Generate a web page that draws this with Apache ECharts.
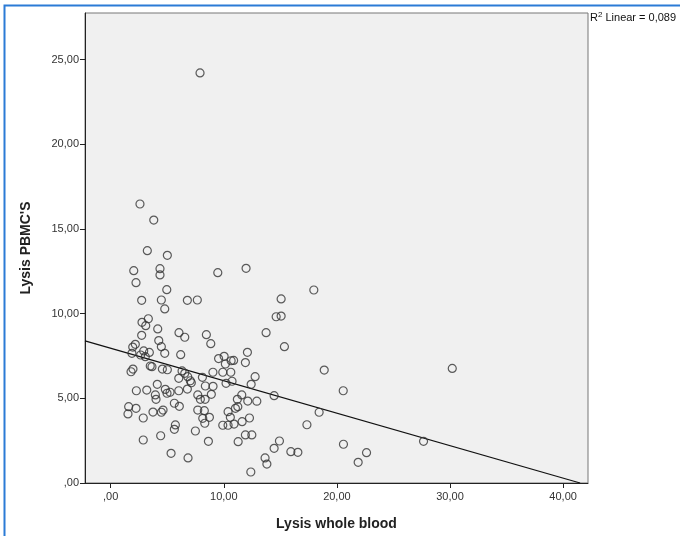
<!DOCTYPE html>
<html>
<head>
<meta charset="utf-8">
<script src="https://cdn.jsdelivr.net/npm/echarts@6/dist/echarts.min.js"></script>
<style>
  html, body { margin: 0; padding: 0; background: #fff; }
  #chart { width: 680px; height: 536px; }
</style>
</head>
<body>
<div id="chart"></div>
<script>
// Lysis whole blood (x) vs Lysis PBMC'S (y)
var lysisBlood = [
  7.90, 2.59, 3.81, 3.24, 5.01, 2.04, 4.36, 4.36, 2.24, 4.96,
  2.74, 4.48, 6.78, 7.66, 4.78, 3.33, 2.77, 3.10, 4.16, 2.74,
  6.04, 6.55, 8.46, 8.85, 4.25, 4.48, 2.18, 1.95, 2.92, 3.42,
  1.88, 4.78, 6.19, 2.65, 3.06, 15.36, 12.09, 9.54, 10.03, 10.65,
  10.87, 10.14, 11.91, 18.88, 30.20, 1.97, 1.80, 3.50, 3.65, 4.57,
  5.01, 6.31, 6.55, 6.02, 6.81, 7.04, 7.13, 8.11, 9.04, 9.91,
  10.62, 12.77, 10.20, 10.73, 12.42, 8.37, 9.05, 4.12, 2.27, 3.19,
  4.83, 4.98, 5.25, 3.95, 4.01, 6.02, 6.78, 7.70, 7.93, 8.35,
  8.90, 14.45, 11.59, 11.20, 12.12, 12.92, 11.24, 11.03, 10.38, 10.58,
  8.28, 8.73, 8.14, 8.32, 12.27, 11.62, 10.91, 10.38, 9.91, 5.63,
  6.07, 1.59, 2.24, 1.53, 2.88, 3.74, 4.48, 4.63, 7.70, 5.72,
  5.63, 7.49, 2.88, 4.42, 8.64, 5.34, 6.84, 18.43, 17.35, 11.91,
  12.48, 11.27, 14.92, 14.45, 15.93, 16.55, 13.65, 13.81, 12.39, 17.96,
  20.56, 20.58, 27.66, 22.62, 21.88, 9.47, 11.97, 15.07, 14.63, 15.07,
  13.74
];
var lysisPbmc = [
  24.22, 16.48, 15.53, 13.72, 13.45, 12.54, 12.66, 12.29, 11.83, 11.42,
  10.79, 10.81, 10.79, 10.81, 10.28, 9.70, 9.49, 9.29, 9.10, 8.72,
  8.88, 8.61, 8.76, 8.23, 8.41, 8.05, 8.19, 8.03, 7.80, 7.71,
  7.66, 7.66, 7.58, 7.56, 7.46, 8.05, 7.72, 7.35, 7.48, 7.22,
  7.24, 7.03, 7.11, 6.67, 6.77, 6.73, 6.57, 6.91, 6.87, 6.73,
  6.69, 6.62, 6.48, 6.18, 6.28, 6.04, 5.92, 6.24, 6.54, 6.54,
  6.54, 6.28, 5.89, 6.01, 5.83, 5.73, 5.71, 5.83, 5.45, 5.49,
  5.53, 5.30, 5.36, 5.20, 4.94, 5.45, 5.55, 5.20, 4.94, 4.94,
  5.24, 5.16, 5.20, 4.94, 4.84, 4.83, 4.51, 4.41, 4.21, 3.88,
  4.27, 3.88, 3.82, 3.53, 3.84, 3.62, 3.48, 3.41, 3.41, 4.71,
  4.53, 4.51, 4.41, 4.08, 3.84, 4.19, 4.18, 4.31, 4.31, 3.43,
  3.17, 3.07, 2.54, 2.79, 2.46, 1.75, 1.48, 4.18, 3.44, 2.84,
  2.84, 2.44, 2.48, 2.05, 1.85, 1.81, 1.48, 1.12, 0.65, 11.40,
  5.45, 2.29, 2.46, 1.79, 1.22, 12.42, 12.68, 10.87, 9.82, 9.86,
  8.88
];
// fit line end points
var fitLine = [[-2.27, 8.40], [41.50, 0.00]];
var xTicks = [0, 10, 20, 30, 40];
var yTicks = [0, 5, 10, 15, 20, 25];

var points = lysisBlood.map(function (v, i) { return [v, lysisPbmc[i]]; });

function fmt(v) {
  var s = v.toFixed(2).replace('.', ',');
  return s.indexOf('0,') === 0 ? s.slice(1) : s;
}

var chart = echarts.init(document.getElementById('chart'));
var font = 'Liberation Sans, Arial, sans-serif';

var option = {
  backgroundColor: '#fff',
  animation: false,
  grid: {
    left: 85, top: 13, width: 503, height: 470,
    show: true, backgroundColor: '#f0f0f0', borderColor: '#777', borderWidth: 1
  },
  xAxis: {
    type: 'value', min: -2.27, max: 42.2,
    name: 'Lysis whole blood', nameLocation: 'middle', nameGap: 34,
    nameTextStyle: { fontFamily: font, fontSize: 14, fontWeight: 'bold', color: '#222' },
    axisLine: { show: true, onZero: false, lineStyle: { color: '#222', width: 1 } },
    axisTick: { show: true, length: 5, customValues: xTicks, lineStyle: { color: '#222' } },
    axisLabel: { customValues: xTicks, formatter: fmt, fontFamily: font, fontSize: 11, color: '#333', margin: 8 },
    splitLine: { show: false }
  },
  yAxis: {
    type: 'value', min: 0, max: 27.76,
    name: "Lysis PBMC'S", nameLocation: 'middle', nameGap: 52,
    nameTextStyle: { fontFamily: font, fontSize: 14, fontWeight: 'bold', color: '#222' },
    axisLine: { show: true, onZero: false, lineStyle: { color: '#222', width: 1 } },
    axisTick: { show: true, length: 5, customValues: yTicks, lineStyle: { color: '#222' } },
    axisLabel: { customValues: yTicks, formatter: fmt, fontFamily: font, fontSize: 11, color: '#333', margin: 6 },
    splitLine: { show: false }
  },
  series: [{
    type: 'scatter',
    data: points,
    symbol: 'circle',
    symbolSize: 8,
    itemStyle: { color: 'rgba(0,0,0,0)', borderColor: '#333', borderWidth: 1.2 },
    z: 3
  }, {
    type: 'line',
    data: fitLine,
    symbol: 'none',
    lineStyle: { color: '#111', width: 1.3 },
    z: 2
  }],
  graphic: [{
    type: 'rect',
    shape: { x: 4.5, y: 5.5, width: 700, height: 560 },
    style: { fill: 'none', stroke: '#2b7bd6', lineWidth: 2 },
    silent: true
  }, {
    type: 'text',
    left: 590, top: 11,
    style: {
      text: '{n|R}{s|2}{n| Linear = 0,089}',
      rich: {
        n: { fontFamily: font, fontSize: 11, fill: '#111' },
        s: { fontFamily: font, fontSize: 8, fill: '#111', verticalAlign: 'top', padding: [0, 0, 5, 0] }
      }
    }
  }]
};

chart.setOption(option);
</script>
</body>
</html>
